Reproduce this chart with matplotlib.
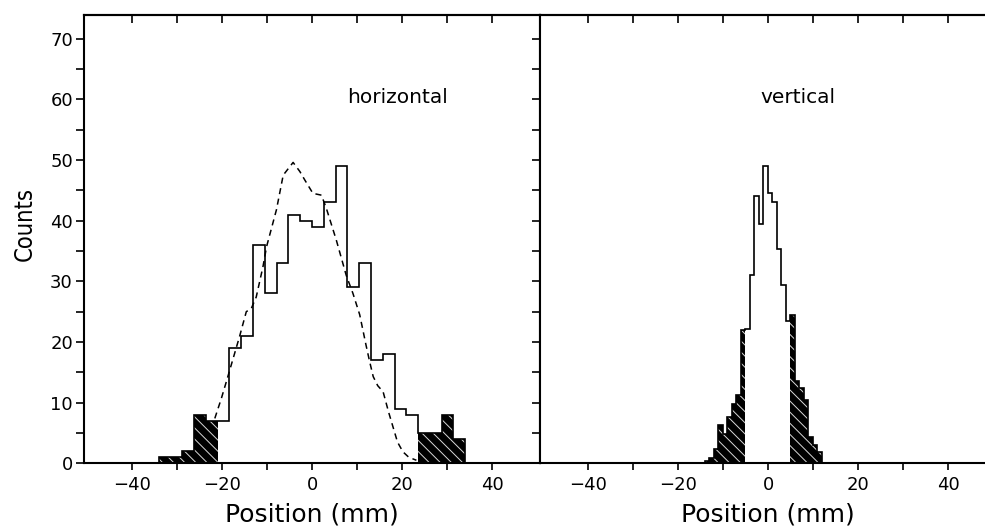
import matplotlib
matplotlib.use('Agg')
import matplotlib.pyplot as plt
import numpy as np
from matplotlib.ticker import FixedLocator, NullFormatter

plt.rcParams['font.family'] = ['DejaVu Sans']
plt.rcParams['hatch.linewidth'] = 0.7

# ---------------- data ----------------
# horizontal profile: bins of 2.62 mm starting at -34.06 mm
h_bin_width = 2.62
h_first_edge = -34.06
h_counts = [1, 1, 2, 8, 7, 7, 19, 21, 36, 28, 33, 41, 40, 39, 43, 49,
            29, 33, 17, 18, 9, 8, 5, 5, 8, 4]
h_shaded = [1, 1, 1, 1, 1, 0, 0, 0, 0, 0, 0, 0, 0, 0, 0, 0,
            0, 0, 0, 0, 0, 0, 1, 1, 1, 1]

# dashed curve (horizontal)
curve_x = [-21.6, -20.1, -18.7, -16.1, -14.6, -13.5, -12.4, -10.9, -10.1,
           -7.9, -6.4, -4.2, -2.7, -1.6, 0.2, 2.1, 3.2, 5.4, 7.6, 9.1,
           10.6, 12.0, 12.8, 13.6, 14.6, 15.8, 17.0, 18.0, 19.0, 20.2,
           21.5, 23.2]
curve_y = [7.4, 10.8, 14.3, 20.9, 25.0, 25.5, 27.4, 32.4, 35.7,
           41.8, 47.5, 49.6, 48.1, 46.7, 44.5, 44.2, 42.0, 36.8, 31.0, 28.0,
           24.5, 19.5, 16.8, 14.3, 12.8, 11.8, 8.5, 6.0, 3.5, 1.9,
           1.0, 0.5]

# vertical profile: bins of 1.0 mm starting at -14.1 mm
v_bin_width = 1.0
v_first_edge = -14.1
v_counts = [0.3, 0.8, 2.4, 6.3, 4.9, 7.7, 9.7, 11.3, 22.0, 22.2, 31.0, 44.0,
            39.5, 49.0, 44.6, 43.0, 35.4, 29.4, 23.5, 24.5, 13.5, 12.4, 10.4,
            4.3, 3.0, 1.8]
v_shaded = [1, 1, 1, 1, 1, 1, 1, 1, 1, 0, 0, 0, 0, 0, 0, 0, 0, 0, 0, 1,
            1, 1, 1, 1, 1, 1]

x_ticks_major = [-40, -20, 0, 20, 40]
x_ticks_minor = [-30, -10, 10, 30]
y_ticks_major = [0, 10, 20, 30, 40, 50, 60, 70]
y_ticks_minor = [5, 15, 25, 35, 45, 55, 65]

# ---------------- figure ----------------
W, H = 985, 529
fig = plt.figure(figsize=(W / 100, H / 100), dpi=100)

left_px, mid_px, right_px = 84, 540, 996
top_px, bot_px = 15, 463.3
b = 1 - bot_px / H
h = (bot_px - top_px) / H
ax1 = fig.add_axes([left_px / W, b, (mid_px - left_px) / W, h])
ax2 = fig.add_axes([mid_px / W, b, (right_px - mid_px) / W, h])

XLIM = (-50.67, 50.67)
YLIM = (0, 73.9)


def draw_hist(ax, counts, first_edge, width, shaded):
    counts = np.asarray(counts, float)
    edges = first_edge + width * np.arange(len(counts) + 1)
    centers = 0.5 * (edges[:-1] + edges[1:])
    m = np.asarray(shaded, bool)
    ax.bar(centers[m], counts[m], width=width, color='black',
           edgecolor='#d8d8d8', hatch='\\\\\\', linewidth=0, zorder=2)
    ax.stairs(counts, edges, color='black', lw=1.2, baseline=0, zorder=3)


draw_hist(ax1, h_counts, h_first_edge, h_bin_width, h_shaded)
ax1.plot(curve_x, curve_y, color='black', lw=1.1, ls=(0, (4, 3)), zorder=4)
draw_hist(ax2, v_counts, v_first_edge, v_bin_width, v_shaded)

for ax in (ax1, ax2):
    ax.set_xlim(*XLIM)
    ax.set_ylim(*YLIM)
    for sp in ax.spines.values():
        sp.set_linewidth(1.5)
    ax.xaxis.set_major_locator(FixedLocator(x_ticks_major))
    ax.xaxis.set_minor_locator(FixedLocator(x_ticks_minor))
    ax.tick_params(axis='x', which='both', direction='out', length=5,
                   width=1.2, top=False, labelsize=13, pad=4)
    sx = ax.secondary_xaxis('top')
    sx.xaxis.set_major_locator(FixedLocator(x_ticks_major))
    sx.xaxis.set_minor_locator(FixedLocator(x_ticks_minor))
    sx.xaxis.set_major_formatter(NullFormatter())
    sx.tick_params(axis='x', which='both', direction='in', length=6,
                   width=1.2, labeltop=False)
    sx.spines['top'].set_linewidth(1.5)
    ax.set_xlabel('Position (mm)', fontsize=18, labelpad=6)

ax1.yaxis.set_major_locator(FixedLocator(y_ticks_major))
ax1.yaxis.set_minor_locator(FixedLocator(y_ticks_minor))
ax1.tick_params(axis='y', which='both', direction='out', length=6, width=1.2,
                right=False, labelsize=13, pad=2)
sy = ax1.secondary_yaxis('right')
sy.yaxis.set_major_locator(FixedLocator(y_ticks_major))
sy.yaxis.set_minor_locator(FixedLocator(y_ticks_minor))
sy.yaxis.set_major_formatter(NullFormatter())
sy.tick_params(axis='y', which='both', direction='in', length=6, width=1.2,
               labelright=False)
ax1.set_ylabel('Counts', fontsize=17, fontstretch='condensed')
ax1.yaxis.set_label_coords(-0.104, 0.534)

ax2.tick_params(axis='y', which='both', left=False, right=False,
                labelleft=False)

ax1.text(7.7, 60.3, 'horizontal', fontsize=14.5, va='center', ha='left')
ax2.text(-1.6, 60.3, 'vertical', fontsize=14.5, va='center', ha='left')

fig.savefig('out.png', dpi=100)
